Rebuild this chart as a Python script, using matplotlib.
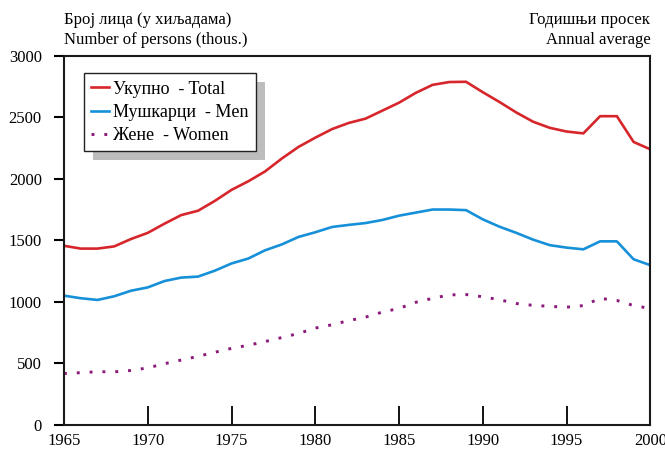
import matplotlib
matplotlib.use("Agg")
import matplotlib.pyplot as plt
from matplotlib.patches import Rectangle

# Data (thousands of persons, annual average)
years = list(range(1965, 2001))
total = [1455, 1432, 1432, 1450, 1510, 1560, 1635, 1705, 1740, 1820,
         1910, 1980, 2060, 2165, 2260, 2335, 2405, 2455, 2490, 2555,
         2620, 2700, 2765, 2788, 2790, 2705, 2625, 2540, 2465, 2415,
         2385, 2370, 2510, 2510, 2300, 2240]
men = [1049, 1028, 1014, 1044, 1089, 1116, 1168, 1196, 1204, 1252,
       1311, 1351, 1418, 1466, 1527, 1565, 1608, 1625, 1640, 1665,
       1700, 1725, 1750, 1750, 1745, 1670, 1610, 1560, 1505, 1460,
       1440, 1426, 1491, 1491, 1345, 1297]
women = [415, 422, 430, 429, 440, 461, 495, 525, 555, 588,
         620, 645, 675, 708, 741, 785, 812, 846, 874, 915,
         945, 995, 1027, 1055, 1058, 1040, 1015, 985, 970, 962,
         955, 968, 1027, 1010, 968, 945]

labels = ["Укупно  - Total", "Мушкарци  - Men", "Жене  - Women"]
xticks = [1965, 1970, 1975, 1980, 1985, 1990, 1995, 2000]
yticks = [0, 500, 1000, 1500, 2000, 2500, 3000]

plt.rcParams["font.family"] = ["Liberation Serif", "DejaVu Serif"]
plt.rcParams["font.size"] = 12

fig = plt.figure(figsize=(6.65, 4.53), dpi=100)
ax = fig.add_axes([0.0962, 0.0629, 0.978 - 0.0962, 0.8764 - 0.0629])

ax.plot(years, total, color="#d7262b", lw=1.9, label=labels[0])
ax.plot(years, men, color="#1690d8", lw=1.9, label=labels[1])
ax.plot(years, women, color="#8b1a7a", lw=2.1, linestyle=(0, (1, 3.4)),
        dash_capstyle="butt", label=labels[2])

ax.set_xlim(1965, 2000)
ax.set_ylim(0, 3000)
ax.set_xticks(xticks)
ax.set_yticks(yticks)
ax.tick_params(axis="x", direction="in", length=14, width=1.3, pad=6, labelsize=12)
ax.tick_params(axis="y", direction="out", length=7, width=1.5, pad=9, labelsize=12)
for s in ax.spines.values():
    s.set_linewidth(1.5)
    s.set_color("#1a1a1a")

# header texts
fig.text(0.0962, 0.955, "Број лица (у хиљадама)", ha="left", va="center", fontsize=12)
fig.text(0.0962, 0.912, "Number of persons (thous.)", ha="left", va="center", fontsize=12)
fig.text(0.978, 0.955, "Годишњи просек", ha="right", va="center", fontsize=12)
fig.text(0.978, 0.912, "Annual average", ha="right", va="center", fontsize=12)

leg = ax.legend(loc="upper left", bbox_to_anchor=(0.034, 0.953),
                frameon=True, fancybox=False, handlelength=1.0,
                handletextpad=0.2, labelspacing=0.35, borderpad=0.4,
                borderaxespad=0, fontsize=13, framealpha=1)
leg.get_frame().set_edgecolor("#222222")
leg.get_frame().set_facecolor("white")
leg.get_frame().set_linewidth(1.0)
leg.set_zorder(5)

# grey shadow behind legend
fig.canvas.draw()
bb = leg.get_window_extent()
inv = fig.transFigure.inverted()
(x0, y0), (x1, y1) = inv.transform([[bb.x0 + 9, bb.y0 - 9], [bb.x1 + 9, bb.y1 - 9]])
fig.patches.append(Rectangle((x0, y0), x1 - x0, y1 - y0, transform=fig.transFigure,
                             facecolor="#bdbdbd", edgecolor="none", zorder=1))
ax.set_zorder(2)
ax.patch.set_alpha(0)

fig.savefig("out.png", dpi=100)
